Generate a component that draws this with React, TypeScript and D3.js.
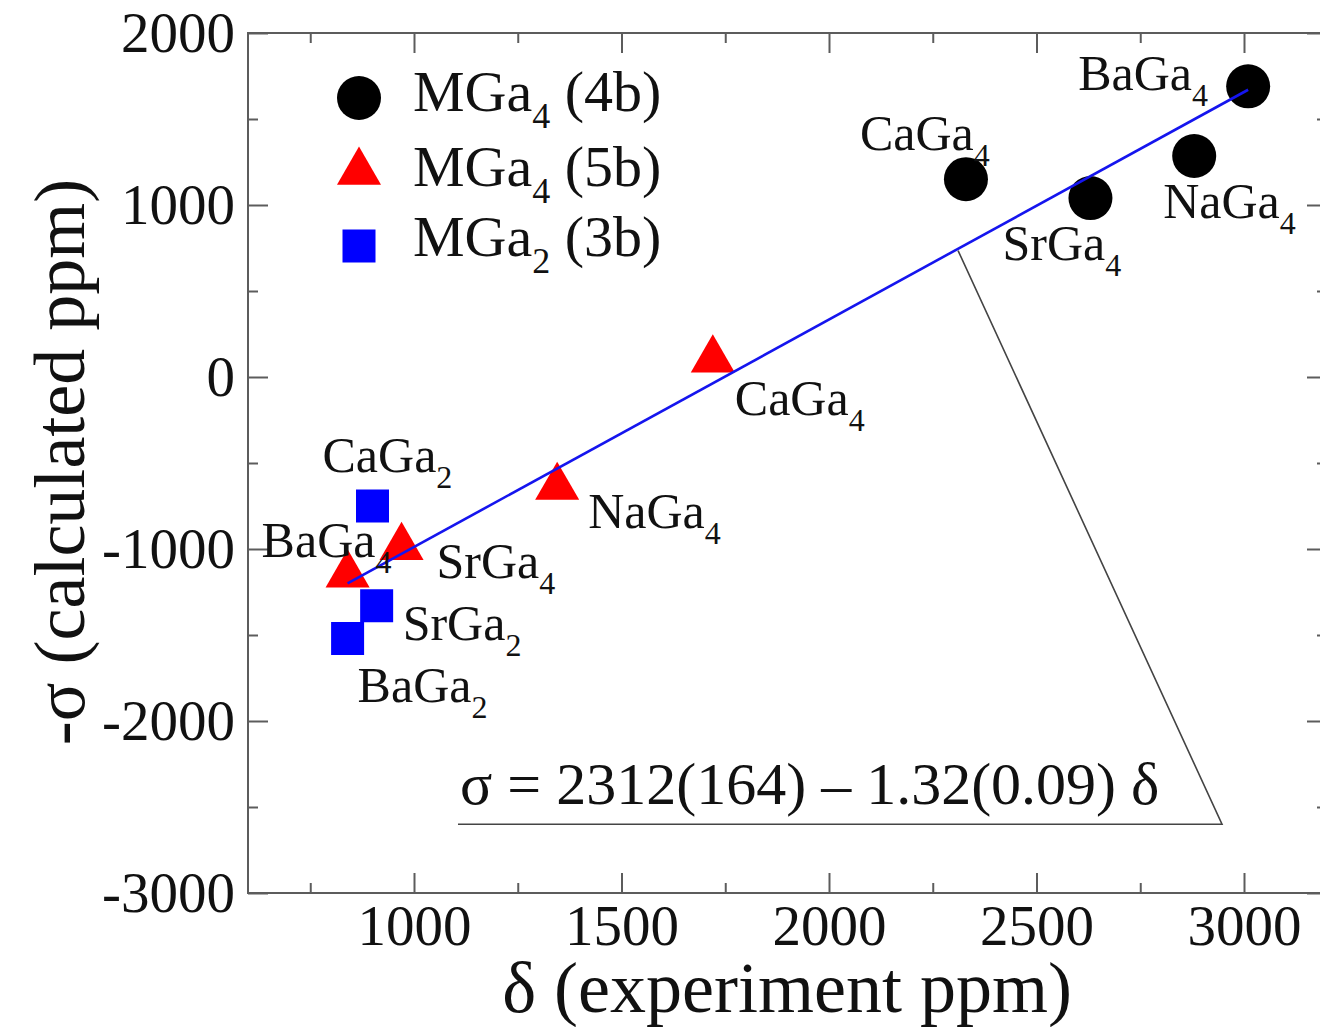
import React, { useEffect, useRef } from 'react';
import * as d3 from 'd3';

// legend groups
const groupNames = ['MGa4 (4b)', 'MGa4 (5b)', 'MGa2 (3b)'];

// MGa4 (4b) - black circles
const circleLabels = ['BaGa4', 'CaGa4', 'SrGa4', 'NaGa4'];
const circleX = [3010, 2330, 2630, 2880];
const circleY = [1690, 1150, 1040, 1285];

// MGa4 (5b) - red triangles
const triangleLabels = ['CaGa4', 'NaGa4', 'SrGa4', 'BaGa4'];
const triangleX = [1720, 1345, 970, 840];
const triangleY = [100, -640, -990, -1150];

// MGa2 (3b) - blue squares
const squareLabels = ['CaGa2', 'SrGa2', 'BaGa2'];
const squareX = [900, 910, 840];
const squareY = [-750, -1330, -1520];

// fitted line end points and the callout to the equation
const fitX = [840, 3010];
const fitY = [-1200, 1670];
const calloutX = [2311, 2947, 1106];
const calloutY = [735, -2600, -2600];
const equation = 'σ = 2312(164) – 1.32(0.09) δ';

const xMajor = [1000, 1500, 2000, 2500, 3000];
const xMinor = [750, 1250, 1750, 2250, 2750];
const yMajor = [-3000, -2000, -1000, 0, 1000, 2000];
const yMinor = [-2500, -1500, -500, 500, 1500];

// label placement, pixels from the marker
const circleOffsets = [[-170, 4], [-106, -29], [-88, 62], [-31, 62]];
const triangleOffsets = [[22, 55], [31, 41], [35, 31], [-86, -18]];
const squareOffsets = [[-50, -34], [26, 34], [10, 64]];

export default function App() {
  const svgRef = useRef<SVGSVGElement>(null);

  useEffect(() => {
    if (!svgRef.current) return;
    const svg = d3.select(svgRef.current);
    svg.selectAll('*').remove();

    const font = '"Liberation Serif", "Times New Roman", serif';
    const axisColor = '#5c5c5c';

    const x = d3.scaleLinear().domain([600, 3200]).range([248, 1327]);
    const y = d3.scaleLinear().domain([-3000, 2000]).range([893, 33]);

    const styleAxis = (g: any) => {
      g.select('.domain').remove();
      g.selectAll('line').attr('stroke', axisColor).attr('stroke-width', 2);
      g.selectAll('text')
        .attr('font-family', font)
        .attr('font-size', 57)
        .attr('fill', '#111');
    };

    // axes, ticks pointing inward
    svg.append('g')
      .attr('transform', `translate(0,${y(-3000)})`)
      .call(d3.axisBottom(x).tickValues(xMajor).tickSizeInner(-20).tickSizeOuter(0)
        .tickPadding(12).tickFormat((d: any) => String(d)))
      .call(styleAxis);
    svg.append('g')
      .attr('transform', `translate(0,${y(-3000)})`)
      .call(d3.axisBottom(x).tickValues(xMinor).tickSizeInner(-10).tickSizeOuter(0).tickFormat(() => ''))
      .call(styleAxis);
    svg.append('g')
      .attr('transform', `translate(0,${y(2000)})`)
      .call(d3.axisTop(x).tickValues(xMajor).tickSizeInner(-20).tickSizeOuter(0).tickFormat(() => ''))
      .call(styleAxis);
    svg.append('g')
      .attr('transform', `translate(0,${y(2000)})`)
      .call(d3.axisTop(x).tickValues(xMinor).tickSizeInner(-10).tickSizeOuter(0).tickFormat(() => ''))
      .call(styleAxis);

    svg.append('g')
      .attr('transform', `translate(${x(600)},0)`)
      .call(d3.axisLeft(y).tickValues(yMajor).tickSizeInner(-20).tickSizeOuter(0)
        .tickPadding(13).tickFormat((d: any) => String(d)))
      .call(styleAxis);
    svg.append('g')
      .attr('transform', `translate(${x(600)},0)`)
      .call(d3.axisLeft(y).tickValues(yMinor).tickSizeInner(-10).tickSizeOuter(0).tickFormat(() => ''))
      .call(styleAxis);
    svg.append('g')
      .attr('transform', `translate(${x(3200)},0)`)
      .call(d3.axisRight(y).tickValues(yMajor).tickSizeInner(-20).tickSizeOuter(0).tickFormat(() => ''))
      .call(styleAxis);
    svg.append('g')
      .attr('transform', `translate(${x(3200)},0)`)
      .call(d3.axisRight(y).tickValues(yMinor).tickSizeInner(-10).tickSizeOuter(0).tickFormat(() => ''))
      .call(styleAxis);

    // frame
    svg.append('rect')
      .attr('x', x(600))
      .attr('y', y(2000))
      .attr('width', x(3200) - x(600))
      .attr('height', y(-3000) - y(2000))
      .attr('fill', 'none')
      .attr('stroke', axisColor)
      .attr('stroke-width', 2);

    // axis titles
    svg.append('text')
      .attr('x', 787)
      .attr('y', 1012)
      .attr('text-anchor', 'middle')
      .attr('font-family', font)
      .attr('font-size', 72)
      .attr('fill', '#111')
      .text('δ (experiment ppm)');

    svg.append('text')
      .attr('transform', 'translate(84,462) rotate(-90)')
      .attr('text-anchor', 'middle')
      .attr('font-family', font)
      .attr('font-size', 72)
      .attr('fill', '#111')
      .text('-σ (calculated ppm)');

    const circle = d3.symbol().type(d3.symbolCircle).size(Math.PI * 22 * 22)();
    const triangle = d3.symbol().type(d3.symbolTriangle).size(840)();
    const square = d3.symbol().type(d3.symbolSquare).size(33 * 33)();

    const series = [
      { xs: circleX, ys: circleY, path: circle, color: '#000000' },
      { xs: triangleX, ys: triangleY, path: triangle, color: '#ff0000' },
      { xs: squareX, ys: squareY, path: square, color: '#0000ff' },
    ];

    // callout from the fit line to the equation
    const callout = d3.line<number>()
      .x(i => x(calloutX[i]))
      .y(i => y(calloutY[i]));
    svg.append('path')
      .attr('d', callout(d3.range(calloutX.length)))
      .attr('fill', 'none')
      .attr('stroke', '#444')
      .attr('stroke-width', 1.6);

    series.forEach(s => {
      svg.append('g')
        .selectAll('path')
        .data(s.xs)
        .enter()
        .append('path')
        .attr('d', s.path)
        .attr('transform', (d, i) => `translate(${x(d)},${y(s.ys[i])})`)
        .attr('fill', s.color);
    });

    // fit line
    const fit = d3.line<number>()
      .x(i => x(fitX[i]))
      .y(i => y(fitY[i]));
    svg.append('path')
      .attr('d', fit(d3.range(fitX.length)))
      .attr('fill', 'none')
      .attr('stroke', '#1515ee')
      .attr('stroke-width', 2.6);

    // labels with subscripts
    const addLabel = (px: number, py: number, label: string, size: number, subSize: number, subDy: number) => {
      const t = svg.append('text')
        .attr('x', px)
        .attr('y', py)
        .attr('font-family', font)
        .attr('font-size', size)
        .attr('fill', '#111');
      t.append('tspan').text(label.slice(0, -1));
      t.append('tspan').attr('font-size', subSize).attr('dy', subDy).text(label.slice(-1));
      return t;
    };

    const labelSets = [
      { names: circleLabels, xs: circleX, ys: circleY, off: circleOffsets },
      { names: triangleLabels, xs: triangleX, ys: triangleY, off: triangleOffsets },
      { names: squareLabels, xs: squareX, ys: squareY, off: squareOffsets },
    ];
    labelSets.forEach(set => {
      set.names.forEach((name, i) => {
        addLabel(x(set.xs[i]) + set.off[i][0], y(set.ys[i]) + set.off[i][1], name, 50, 32, 16);
      });
    });

    // equation
    svg.append('text')
      .attr('x', x(calloutX[2]) + 2)
      .attr('y', y(calloutY[2]) - 20)
      .attr('font-family', font)
      .attr('font-size', 60)
      .attr('fill', '#111')
      .text(equation);

    // legend
    const legendY = [98, 172, 246];
    const legendTextY = [111, 186, 256];
    const legend = svg.append('g');
    series.forEach((s, i) => {
      legend.append('path')
        .attr('d', s.path)
        .attr('transform', `translate(359,${legendY[i]})`)
        .attr('fill', s.color);
      const t = legend.append('text')
        .attr('x', 413)
        .attr('y', legendTextY[i])
        .attr('font-family', font)
        .attr('font-size', 58)
        .attr('fill', '#111');
      const name = groupNames[i];
      t.append('tspan').text(name.slice(0, 3));
      t.append('tspan').attr('font-size', 36).attr('dy', 17).text(name.slice(3, 4));
      t.append('tspan').attr('dy', -17).text(name.slice(4));
    });
  }, []);

  return (
    <svg
      ref={svgRef}
      width={1320}
      height={1027}
      style={{ position: 'absolute', left: 0, top: 0, background: '#fff' }}
    />
  );
}
